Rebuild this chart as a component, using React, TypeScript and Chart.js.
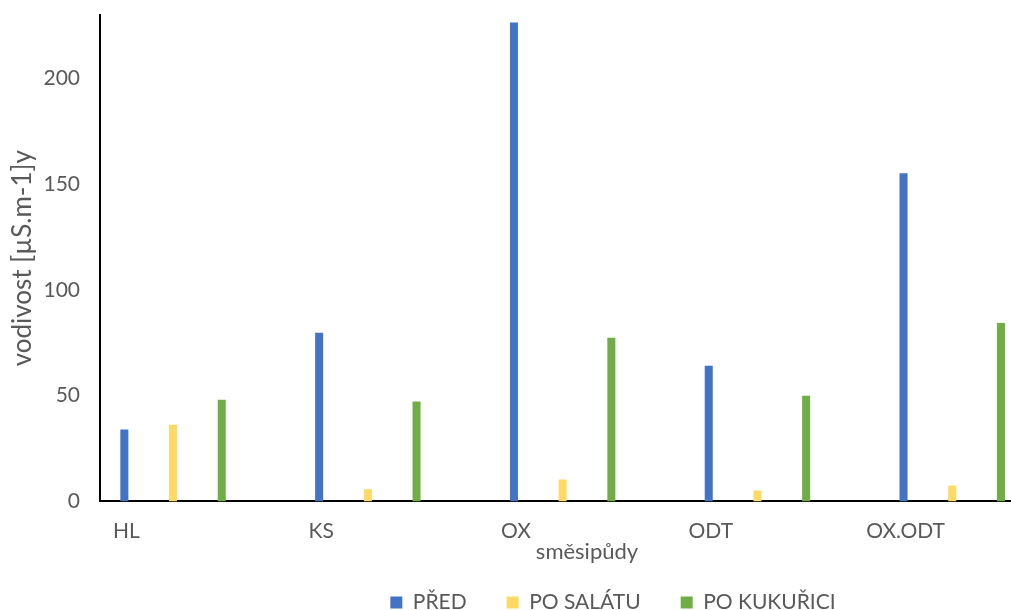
import React, { useEffect, useRef } from "react";
import { Chart, registerables } from "chart.js";

Chart.register(...registerables);

const categories = ["HL", "KS", "OX", "ODT", "OX.ODT"];
const pred = [34, 79.7, 226.4, 64.2, 155.2];
const poSalatu = [36.3, 5.7, 10.4, 5.2, 7.5];
const poKukurici = [48.1, 47.2, 77.4, 50, 84.4];
const emptySeries = [null, null, null, null, null];
const yTicks = [0, 50, 100, 150, 200];

const FONT = "Lato";
const TEXT = "#595959";

const legendShift = {
  id: "legendShift",
  afterLayout(chart: any) {
    if (chart.legend) {
      chart.legend.left += 74;
      chart.legend.right += 74;
    }
  },
};

export default function App() {
  const ref = useRef<HTMLCanvasElement | null>(null);

  useEffect(() => {
    if (!ref.current) return;
    const chart = new Chart(ref.current, {
      type: "bar",
      data: {
        labels: categories,
        datasets: [
          { label: "PŘED", data: pred, backgroundColor: "#4472C4" },
          { label: "PO SALÁTU", data: poSalatu, backgroundColor: "#FFD966" },
          { label: "PO KUKUŘICI", data: poKukurici, backgroundColor: "#70AD47" },
          { label: "", data: emptySeries as any, backgroundColor: "#A5A5A5" },
        ],
      },
      plugins: [legendShift],
      options: {
        responsive: false,
        animation: false,
        maintainAspectRatio: false,
        datasets: {
          bar: { categoryPercentage: 1, barPercentage: 0.165 },
        },
        layout: { padding: { left: 4, top: 15, right: 156, bottom: -13 } },
        plugins: {
          legend: {
            position: "bottom",
            labels: {
              font: { family: FONT, size: 21 },
              color: TEXT,
              boxWidth: 12,
              boxHeight: 12,
              padding: 40,
              filter: (item) => item.text !== "",
            },
          },
          tooltip: { enabled: false },
        },
        scales: {
          x: {
            grid: { display: false, drawTicks: false },
            border: { display: true, color: "#000", width: 2 },
            ticks: {
              font: { family: FONT, size: 21 },
              color: TEXT,
              padding: 17,
              labelOffset: -71,
              maxRotation: 0,
              autoSkip: false,
            },
            title: {
              display: true,
              text: "směsipůdy",
              font: { family: FONT, size: 22 },
              color: TEXT,
              padding: { top: -22, bottom: -13 },
            },
          },
          y: {
            min: 0,
            max: 230,
            grid: { display: false, drawTicks: false },
            border: { display: true, color: "#000", width: 2 },
            afterBuildTicks: (scale: any) => {
              scale.ticks = yTicks.map((v) => ({ value: v }));
            },
            ticks: {
              font: { family: FONT, size: 21 },
              color: TEXT,
              padding: 20,
            },
            title: {
              display: true,
              text: "vodivost [µS.m-1]y",
              font: { family: FONT, size: 26 },
              color: TEXT,
              padding: { top: 3, bottom: 0 },
            },
            afterFit: (scale: any) => {
              scale.width = 96;
              scale.paddingTop = 0;
              scale.paddingBottom = 0;
            },
          },
        },
      },
    });
    return () => chart.destroy();
  }, []);

  return (
    <div
      style={{
        position: "absolute",
        left: 0,
        top: 0,
        width: 1011,
        height: 610,
        overflow: "hidden",
        background: "#fff",
      }}
    >
      <canvas ref={ref} width={1230} height={610} style={{ display: "block" }} />
    </div>
  );
}
